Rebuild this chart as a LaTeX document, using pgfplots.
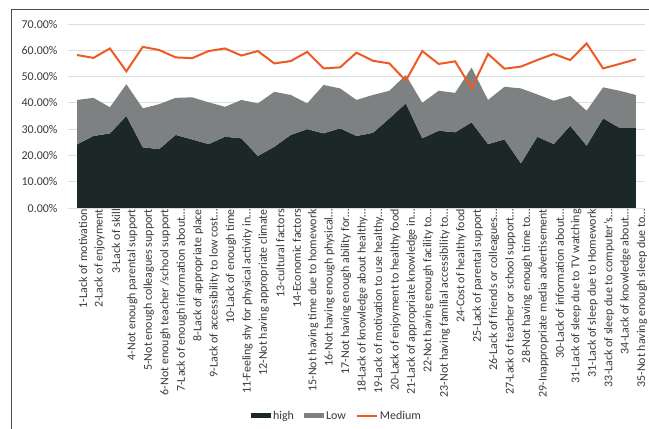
\documentclass[border=0pt]{standalone}
\usepackage{pgfplots}
\usepackage{pgfplotstable}
\pgfplotsset{compat=1.18}
\usepackage{fontspec}
\setmainfont{Carlito}
\definecolor{cHigh}{HTML}{1B2827}
\definecolor{cLow}{HTML}{7E8181}
\definecolor{cMed}{HTML}{EF5A24}
\definecolor{cTxt}{HTML}{3A3A3A}
\definecolor{cGrid}{HTML}{DDDDDD}
\pgfplotstableread{
x high low medium
1 24.2 16.9 58.2
2 27.4 14.5 57.1
3 28.4 9.9 60.7
4 35.0 12.1 52.0
5 23.1 14.8 61.3
6 22.4 17.1 60.1
7 27.8 14.1 57.3
8 26.1 16.0 57.0
9 24.3 15.9 59.7
10 27.1 11.4 60.7
11 26.5 14.6 58.0
12 19.8 20.0 59.7
13 23.3 20.9 55.0
14 27.8 15.2 55.9
15 30.0 9.8 59.4
16 28.4 18.4 53.1
17 30.3 15.2 53.5
18 27.4 13.7 59.1
19 28.6 14.4 56.0
20 34.1 10.5 55.0
21 39.8 10.8 48.4
22 26.5 13.5 59.7
23 29.4 15.2 54.8
24 28.8 15.0 55.8
25 32.6 20.8 45.5
26 24.3 16.8 58.6
27 26.1 20.0 53.0
28 17.0 28.5 53.8
29 27.1 16.1 56.3
30 24.3 16.5 58.6
31 31.3 11.3 56.3
32 23.7 13.3 62.6
33 34.1 11.8 53.1
34 30.5 14.1 54.8
35 30.5 12.5 56.6
}\datatable
\begin{document}
\begin{tikzpicture}
\useasboundingbox (0,0) rectangle (649bp,429bp);
\fill[white] (0,0) rectangle (649bp,429bp);
\draw[color=black!70, line width=1bp] (11bp,-5bp) -- (11bp,419bp) -- (660bp,419bp);
\begin{axis}[
  at={(68bp,221bp)}, anchor=south west,
  scale only axis, width=577bp, height=184bp,
  xmin=0.45, xmax=35.55, ymin=0, ymax=70,
  axis line style={draw=none},
  major tick length=0pt,
  ytick={0,10,...,70},
  ymajorgrids, grid style={cGrid, line width=0.8bp},
  /pgf/number format/assume math mode=true,
  yticklabel={\pgfmathprintnumber[fixed,fixed zerofill,precision=2]{\tick}\%},
  yticklabel style={font=\fontsize{12}{14}\selectfont, text=cTxt, xshift=-7bp},
  xtick={1,...,35},
  xticklabels={
    1-Lack of motivation,
    2-Lack of enjoyment,
    3-Lack of skill,
    4-Not enough parental support,
    5-Not enough colleagues support,
    6-Not enough teacher /school support,
    7-Lack of enough information about…,
    8-Lack of appropriate place,
    9-Lack of accessibility to low cost…,
    10-Lack of enough time,
    11-Feeling shy for  physical activity in…,
    12-Not having appropriate climate,
    13-cultural factors,
    14-Economic factors,
    15-Not having time due to homework,
    16-Not having enough physical…,
    17-Not having enough ability for…,
    18-Lack of  knowledge about healthy…,
    19-Lack of motivation to use healthy…,
    20-Lack of enjoyment to healthy food,
    21-Lack of appropriate knowledge in…,
    22-Not having enough facility to…,
    23-Not having familial accessibility to…,
    24-Cost of healthy food,
    25-Lack of  parental support,
    26-Lack of  friends or colleagues…,
    27-Lack of  teacher or school support…,
    28-Not having enough time to…,
    29-Inappropriate media advertisement,
    30-Lack of  information about…,
    31-Lack  of  sleep due to TV watching,
    31-Lack  of  sleep due to Homework,
    33-Lack  of  sleep due to computer's…,
    34-Lack of  knowledge about…,
    35-Not having enough sleep due to…},
  xticklabel style={rotate=90, anchor=east, font=\fontsize{12}{14}\selectfont, text=cTxt, inner sep=1bp, yshift=-6bp},
  legend style={at={(0.4653,-1.13)}, anchor=center, draw=none, fill=none,
    font=\fontsize{12}{14}\selectfont, text=cTxt, legend columns=3,
    nodes={inner sep=1bp},
    /tikz/every odd column/.append style={column sep=1bp},
    /tikz/every even column/.append style={column sep=9bp}},
  legend cell align=left,
]
\addplot[stack plots=y, fill=cHigh, draw=none,
  legend image code/.code={\fill[cHigh] (0bp,-2.5bp) rectangle (20bp,2.5bp);}]
  table[x=x,y=high]{\datatable} \closedcycle;
\addlegendentry{high}
\addplot[stack plots=y, fill=cLow, draw=none,
  legend image code/.code={\fill[cLow] (0bp,-2.5bp) rectangle (20bp,2.5bp);}]
  table[x=x,y=low]{\datatable} \closedcycle;
\addlegendentry{Low}
\addplot[color=cMed, line width=2bp, no marks,
  legend image code/.code={\draw[cMed, line width=2bp] (0bp,0bp) -- (20bp,0bp);}]
  table[x=x,y=medium]{\datatable};
\addlegendentry{Medium}
\end{axis}
\end{tikzpicture}
\end{document}
